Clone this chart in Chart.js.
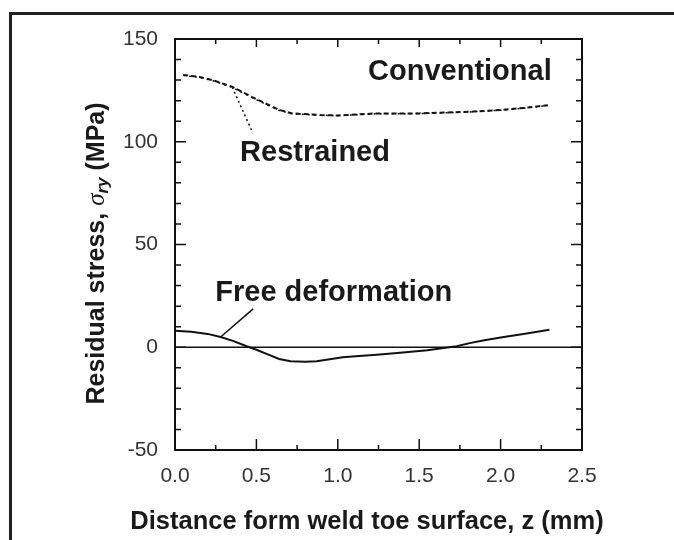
<!DOCTYPE html>
<html>
<head>
<meta charset="utf-8">
<script src="https://cdn.jsdelivr.net/npm/chart.js@4/dist/chart.umd.min.js"></script>
<style>
  html, body { margin: 0; padding: 0; background: #fff; }
  #wrap { width: 674px; height: 540px; }
</style>
</head>
<body>
<div id="wrap"><canvas id="stressChart" width="674" height="540"></canvas></div>
<script>
// values
const zConv = [0.05, 0.15, 0.23, 0.35, 0.48, 0.56, 0.64, 0.72, 0.89, 1.0, 1.24, 1.5, 1.81, 2.01, 2.15, 2.29];
const conventional = [132.5, 131.5, 130, 126.8, 121.5, 118.5, 115.5, 113.8, 113.0, 112.8, 113.8, 113.8, 114.6, 115.5, 116.5, 117.8];
const zRestr = [0.05, 0.15, 0.23, 0.35, 0.48, 0.56, 0.64, 0.72, 0.89, 1.0, 1.24, 1.5, 1.81, 2.01, 2.15, 2.29];
const restrained = [132.3, 131.3, 129.8, 126.5, 121.2, 118.2, 115.3, 113.6, 112.9, 112.7, 113.6, 113.7, 114.5, 115.4, 116.4, 117.6];
const zFree = [0.0, 0.1, 0.2, 0.28, 0.36, 0.44, 0.5, 0.57, 0.64, 0.71, 0.8, 0.87, 0.95, 1.03, 1.13, 1.24, 1.4, 1.55, 1.73, 1.81, 1.9, 2.01, 2.15, 2.3];
const freeDeformation = [8, 7.5, 6.5, 5, 3, 0.5, -1.2, -3.5, -5.7, -6.8, -7, -6.8, -5.8, -4.9, -4.3, -3.6, -2.5, -1.5, 0.5, 2, 3.4, 4.9, 6.6, 8.5];
const zZero = [0, 2.5];
const zeroLine = [0, 0];

const yTickLabels = [-50, 0, 50, 100, 150];
const xTickLabels = ['0.0', '0.5', '1.0', '1.5', '2.0', '2.5'];
const xTitle = 'Distance form weld toe surface, z (mm)';

// labels and their leader lines, in data units
const notes = [
  { text: 'Conventional', z: 1.75, v: 134 },
  { text: 'Restrained', z: 0.86, v: 94.5 },
  { text: 'Free deformation', z: 0.975, v: 26.5 }
];
const leaders = [
  { from: [0.47, 105.7], to: [0.35, 126.8], dash: [2, 3] },
  { from: [0.48, 18.7], to: [0.28, 5], dash: [] }
];

const toPts = (xs, ys) => xs.map((x, i) => ({ x: x, y: ys[i] }));
const ink = '#111';
const sans = '"Liberation Sans", Arial, sans-serif';

const framePlugin = {
  id: 'frame',
  beforeDraw(chart) {
    const ctx = chart.ctx;
    ctx.save();
    ctx.fillStyle = '#fff';
    ctx.fillRect(0, 0, chart.width, chart.height);
    ctx.strokeStyle = '#222';
    ctx.lineWidth = 3;
    ctx.strokeRect(10.5, 13.5, 700, 600);
    ctx.restore();
  },
  afterDatasetsDraw(chart) {
    const { ctx, chartArea: a, scales: { x, y } } = chart;
    ctx.save();
    ctx.strokeStyle = ink;
    ctx.lineWidth = 2;
    ctx.strokeRect(a.left, a.top, a.right - a.left, a.bottom - a.top);

    // inward ticks
    ctx.lineWidth = 1.5;
    ctx.beginPath();
    y.ticks.forEach(t => {
      const py = y.getPixelForValue(t.value);
      const len = t.value % 50 === 0 ? 11 : 6;
      ctx.moveTo(a.left, py); ctx.lineTo(a.left + len, py);
      ctx.moveTo(a.right, py); ctx.lineTo(a.right - len, py);
    });
    x.ticks.forEach(t => {
      const px = x.getPixelForValue(t.value);
      const major = Math.abs(t.value * 2 - Math.round(t.value * 2)) < 1e-6;
      ctx.moveTo(px, a.bottom); ctx.lineTo(px, a.bottom - (major ? 11 : 5));
      ctx.moveTo(px, a.top); ctx.lineTo(px, a.top + (major ? 8 : 5));
    });
    ctx.stroke();

    // leader lines
    ctx.lineWidth = 1.5;
    leaders.forEach(l => {
      ctx.setLineDash(l.dash);
      ctx.beginPath();
      ctx.moveTo(x.getPixelForValue(l.from[0]), y.getPixelForValue(l.from[1]));
      ctx.lineTo(x.getPixelForValue(l.to[0]), y.getPixelForValue(l.to[1]));
      ctx.stroke();
    });
    ctx.setLineDash([]);

    // curve labels
    ctx.fillStyle = '#1a1a1a';
    ctx.font = 'bold 29px ' + sans;
    ctx.textAlign = 'center';
    ctx.textBaseline = 'middle';
    notes.forEach(n => {
      ctx.fillText(n.text, x.getPixelForValue(n.z), y.getPixelForValue(n.v));
    });

    // x axis title, drawn here so it is not squeezed to the axis width
    ctx.font = 'bold 25.5px ' + sans;
    ctx.fillText(xTitle, 367, 522);

    // y axis title with subscript
    const parts = [
      { t: 'Residual stress, ', f: 'bold 25px ' + sans, dy: 0 },
      { t: '\u03C3', f: 'italic 25px "Liberation Serif", serif', dy: 0 },
      { t: 'ry', f: 'italic bold 17px ' + sans, dy: 6 },
      { t: ' (MPa)', f: 'bold 25px ' + sans, dy: 0 }
    ];
    let total = 0;
    parts.forEach(p => { ctx.font = p.f; p.w = ctx.measureText(p.t).width; total += p.w; });
    ctx.translate(97, (a.top + a.bottom) / 2 + 9);
    ctx.rotate(-Math.PI / 2);
    ctx.textAlign = 'left';
    let cx = -total / 2;
    parts.forEach(p => {
      ctx.font = p.f;
      ctx.fillText(p.t, cx, p.dy);
      cx += p.w;
    });
    ctx.restore();
  }
};

const data = {
  datasets: [
    {
      label: 'Conventional',
      data: toPts(zConv, conventional),
      borderColor: ink,
      borderWidth: 2,
      borderDash: [5, 3],
      showLine: true,
      pointRadius: 0
    },
    {
      label: 'Restrained',
      data: toPts(zRestr, restrained),
      borderColor: ink,
      borderWidth: 1.5,
      borderDash: [2, 4],
      showLine: true,
      pointRadius: 0
    },
    {
      label: 'Free deformation',
      data: toPts(zFree, freeDeformation),
      borderColor: ink,
      borderWidth: 2,
      showLine: true,
      pointRadius: 0
    },
    {
      label: 'zero',
      data: toPts(zZero, zeroLine),
      borderColor: ink,
      borderWidth: 1.6,
      showLine: true,
      pointRadius: 0
    }
  ]
};

const config = {
  type: 'scatter',
  data: data,
  options: {
    responsive: false,
    animation: false,
    layout: { padding: { left: 0, right: 92, top: 39, bottom: 0 } },
    plugins: { legend: { display: false }, tooltip: { enabled: false } },
    scales: {
      x: {
        type: 'linear',
        min: 0,
        max: 2.5,
        afterFit: s => { s.height = 90; },
        grid: { display: false, drawTicks: false },
        border: { display: false },
        ticks: {
          stepSize: 0.25,
          padding: 14,
          color: '#333',
          font: { family: sans, size: 21 },
          maxRotation: 0,
          autoSkip: false,
          callback: v => {
            const i = Math.round(v * 2);
            return Math.abs(v * 2 - i) < 1e-6 ? xTickLabels[i] : '';
          }
        }
      },
      y: {
        min: -50,
        max: 150,
        afterFit: s => { s.width = 175; },
        grid: { display: false, drawTicks: false },
        border: { display: false },
        ticks: {
          stepSize: 10,
          padding: 17,
          color: '#333',
          autoSkip: false,
          font: { family: sans, size: 21 },
          callback: v => yTickLabels.includes(v) ? String(v) : ''
        }
      }
    }
  },
  plugins: [framePlugin]
};

const stressChart = new Chart(document.getElementById('stressChart'), config);
</script>
</body>
</html>
